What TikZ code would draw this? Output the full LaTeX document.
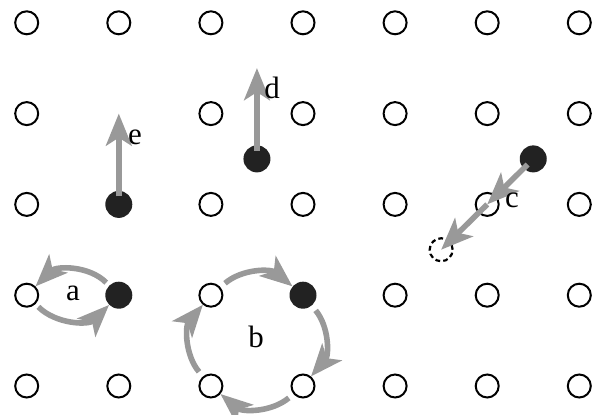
\documentclass[tikz,border=0pt]{standalone}
\usepackage{fontspec}
\setmainfont{Liberation Serif}
\usetikzlibrary{arrows.meta, calc}
\definecolor{hopgray}{HTML}{999999}
\definecolor{atomblack}{HTML}{222222}
\tikzset{
    site/.style={draw=black, circle, line width=0.5mm, minimum size=5.75mm, inner sep=0pt},
    vacsite/.style={site, line width=0.55mm, dash pattern=on 1.2mm off 0.8mm},
    atom/.style={fill=atomblack, circle, minimum size=6.75mm, inner sep=0pt},
    hop/.style={draw=hopgray, line width=1.4mm, -{Stealth[length=8mm, width=6.4mm, inset=2mm]}},
    hoplabel/.style={font=\fontsize{22}{26}\selectfont, inner sep=0pt},
}

\begin{document}
\begin{tikzpicture}[x=0.25mm, y=0.25mm]
\useasboundingbox (0,0) rectangle (594,415);

% lattice sites (s13 is left empty)
\foreach \i in {0,...,6} {
  \foreach \j in {0,...,4} {
    \ifnum\i\j=13 \else
      \node[site] (s\i\j) at ({26.7+92.1*\i},{29+90.8*\j}) {};
    \fi
  }
}
\coordinate (v13) at (118.8,301.4);

% atoms and the vacancy
\node[atom] (atomA) at (s11) {};
\node[atom] (atomE) at (s12) {};
\node[atom] (atomB) at (s31) {};
\node[atom] (atomD) at (256.95,256.1) {};
\node[atom] (atomC) at (533.25,256.1) {};
\node[vacsite] (vacC) at (441.15,165.25) {};
\coordinate (tipD) at (256.95,346.9);

% a: exchange
\draw[hop, shorten <=1mm] (atomA) to[out=135, in=45] (s01);
\draw[hop, shorten <=1mm] (s01) to[out=-45, in=-135] (atomA);
\node[hoplabel] (la) at (73,122) {a};

% b: ring
\draw[hop, shorten <=1.5mm] (s21) to[bend left=40] (atomB);
\draw[hop, shorten <=1.5mm] (atomB) to[bend left=40] (s30);
\draw[hop, shorten <=1.5mm] (s30) to[bend left=40] (s20);
\draw[hop, shorten <=1.5mm] (s20) to[bend left=40] (s21);
\node[hoplabel] (lb) at (256,78) {b};

% c: two hops into the vacancy
\draw[hop, shorten <=2mm] (atomC.center) -- (s52.center);
\draw[hop] (s52.center) -- (vacC.center);
\node[hoplabel] (lc) at (512,215) {c};

% d, e: straight hops
\draw[hop, shorten <=2mm] (atomD.center) -- (tipD);
\node[hoplabel] (ld) at (272,327) {d};
\draw[hop, shorten <=2mm] (atomE.center) -- (v13);
\node[hoplabel] (le) at (135,278) {e};

\end{tikzpicture}
\end{document}
